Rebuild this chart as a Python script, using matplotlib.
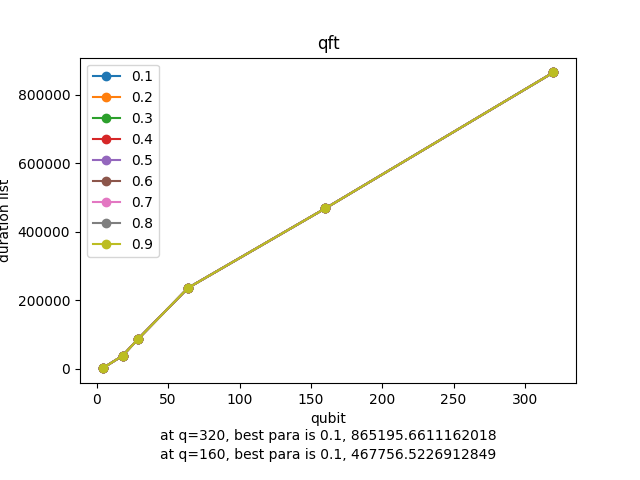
import matplotlib
matplotlib.use("Agg")
import matplotlib.pyplot as plt

qubits = [4, 18, 29, 64, 160, 320]
paras = ["0.1", "0.2", "0.3", "0.4", "0.5", "0.6", "0.7", "0.8", "0.9"]
durations = [1200, 37500, 87000, 236000, 467756.5226912849, 865195.6611162018]
notes = [
    "at q=320, best para is 0.1, 865195.6611162018",
    "at q=160, best para is 0.1, 467756.5226912849",
]

fig = plt.figure(figsize=(6.4, 4.8), dpi=100)
ax = fig.add_subplot(111)
fig.subplots_adjust(bottom=0.202)

for p in paras:
    ax.plot(qubits, durations, marker='o', label=p)

ax.set_title("qft")
ax.set_xlabel("qubit")
ax.set_ylabel("duration list")
ax.legend(loc='upper left')

fig.text(328 / 640, (480 - 436) / 480, notes[0], ha='center', va='center')
fig.text(328 / 640, (480 - 455) / 480, notes[1], ha='center', va='center')

fig.savefig("out.png", dpi=100)
